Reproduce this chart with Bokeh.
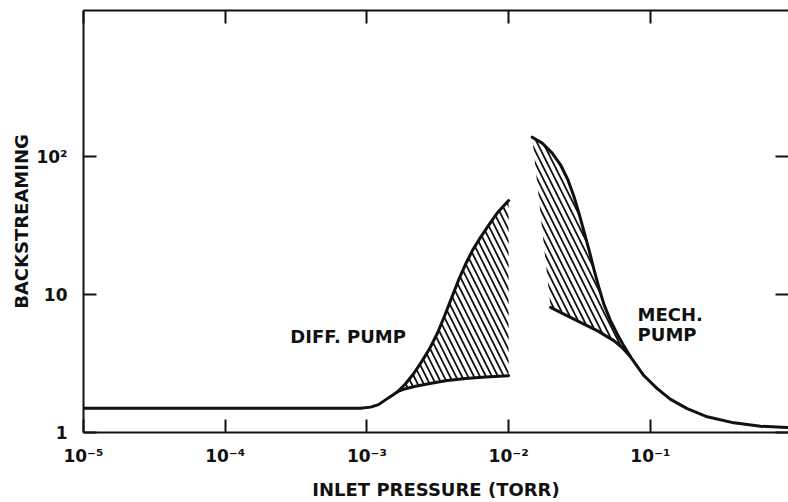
from bokeh.plotting import figure
from bokeh.models import LogAxis, FixedTicker, Range1d
from bokeh.core.properties import value
from bokeh.embed import file_html
from bokeh.resources import INLINE

# ---- data ----
x_ticks = [1e-5, 1e-4, 1e-3, 1e-2, 1e-1]
x_tick_labels = ["10⁻⁵", "10⁻⁴", "10⁻³", "10⁻²", "10⁻¹"]
y_ticks = [1, 10, 100]
y_tick_labels = ["1", "10", "10²"]

diff_lower_x = [1e-5, 9.01e-4, 1.060e-3, 1.208e-3, 1.375e-3, 1.516e-3, 1.644e-3, 1.873e-3,
                2.203e-3, 2.720e-3, 3.586e-3, 4.963e-3, 6.871e-3, 1e-2]
diff_lower_y = [1.50, 1.50, 1.528, 1.593, 1.746, 1.866, 1.977, 2.078,
                2.166, 2.259, 2.374, 2.467, 2.529, 2.579]
diff_upper_x = [1.644e-3, 1.873e-3, 2.133e-3, 2.428e-3, 2.765e-3, 3.149e-3, 3.528e-3, 3.954e-3,
                4.429e-3, 4.963e-3, 5.561e-3, 6.333e-3, 7.214e-3, 8.351e-3, 1e-2]
diff_upper_y = [1.977, 2.259, 2.667, 3.255, 4.042, 5.273, 6.995, 9.435,
                12.73, 16.60, 20.96, 26.01, 31.76, 39.41, 48.12]

mech_upper_x = [0.014664, 0.017254, 0.020300, 0.023240, 0.026182, 0.028860, 0.031305, 0.033962,
                0.036838, 0.039949, 0.043332, 0.046989, 0.052360, 0.058356, 0.065026, 0.072461,
                0.08996, 0.1119, 0.1389, 0.1821, 0.2521, 0.3885, 0.5992, 0.9249, 1.05]
mech_upper_y = [138.7, 125.6, 106.3, 87.5, 68.2, 51.7, 39.2, 28.9,
                21.3, 15.3, 11.3, 8.54, 6.47, 5.19, 4.25, 3.54,
                2.59, 2.08, 1.74, 1.49, 1.30, 1.175, 1.11, 1.086, 1.08]
mech_lower_x = [0.01977, 0.02455, 0.03214, 0.04217, 0.05521, 0.06364, 0.072461]
mech_lower_y = [8.09, 7.23, 6.29, 5.48, 4.64, 4.11, 3.54]

labels_text = ["DIFF. PUMP", "MECH.", "PUMP"]
labels_x = [2.88e-4, 0.0813, 0.0813]
labels_y = [4.93, 7.23, 5.14]

INK = "#111111"
FONT = "DejaVu Sans"

p = figure(width=788, height=502, x_axis_type="log", y_axis_type="log",
           x_range=Range1d(1e-5, 0.944), y_range=Range1d(1, 1151),
           output_backend="svg", toolbar_location=None,
           min_border_left=83, min_border_right=0, min_border_top=10, min_border_bottom=68)
p.outline_line_color = None
p.xgrid.grid_line_color = None
p.ygrid.grid_line_color = None
p.background_fill_color = "white"
p.border_fill_color = "white"

def style_axis(ax, ticks, labels=None):
    ax.ticker = FixedTicker(ticks=ticks, minor_ticks=[])
    ax.major_tick_in = 13
    ax.major_tick_out = 0
    ax.minor_tick_line_color = None
    ax.major_tick_line_color = INK
    ax.major_tick_line_width = 2
    ax.axis_line_color = INK
    ax.axis_line_width = 2
    if labels is not None:
        ax.major_label_overrides = {t: l for t, l in zip(ticks, labels)}
        ax.major_label_text_font = FONT
        ax.major_label_text_font_style = "bold"
        ax.major_label_text_font_size = "17px"
        ax.major_label_text_color = INK
        ax.axis_label_text_font = FONT
        ax.axis_label_text_font_style = "bold"
        ax.axis_label_text_font_size = "18px"
        ax.axis_label_text_color = INK

xa = p.xaxis[0]
style_axis(xa, x_ticks, x_tick_labels)
xa.axis_label = "INLET PRESSURE (TORR)"
xa.major_label_standoff = 13
xa.axis_label_standoff = 10

ya = p.yaxis[0]
style_axis(ya, y_ticks, y_tick_labels)
ya.axis_label = "BACKSTREAMING"
ya.major_label_standoff = 16
ya.axis_label_standoff = 1

top = LogAxis()
style_axis(top, x_ticks)
top.major_label_text_font_size = "1px"
top.major_label_text_alpha = 0
top.major_label_standoff = 0
p.add_layout(top, "above")

right = LogAxis()
style_axis(right, y_ticks)
right.major_label_text_font_size = "1px"
right.major_label_text_alpha = 0
right.major_label_standoff = 0
right.axis_line_color = None
p.add_layout(right, "right")

# hatched regions
dl = [(x, y) for x, y in zip(diff_lower_x, diff_lower_y) if x >= diff_upper_x[0]]
diff_poly_x = list(diff_upper_x) + [x for x, _ in reversed(dl)]
diff_poly_y = list(diff_upper_y) + [y for _, y in reversed(dl)]
p.patch(diff_poly_x, diff_poly_y, fill_alpha=0, line_color=None,
        hatch_pattern="\\", hatch_color=INK, hatch_weight=1.8, hatch_scale=12)

mu = [(x, y) for x, y in zip(mech_upper_x, mech_upper_y) if x <= mech_lower_x[-1]]
mech_poly_x = [x for x, _ in mu] + list(reversed(mech_lower_x))
mech_poly_y = [y for _, y in mu] + list(reversed(mech_lower_y))
p.patch(mech_poly_x, mech_poly_y, fill_alpha=0, line_color=None,
        hatch_pattern="\\", hatch_color=INK, hatch_weight=1.8, hatch_scale=12)

# curves
for xs, ys in [(diff_lower_x, diff_lower_y), (diff_upper_x, diff_upper_y),
               (mech_upper_x, mech_upper_y), (mech_lower_x, mech_lower_y)]:
    p.line(xs, ys, line_color=INK, line_width=3, line_join="round", line_cap="round")

p.text(x=labels_x, y=labels_y, text=labels_text, text_font=value(FONT),
       text_font_style="bold", text_font_size="18px", text_color=INK,
       text_align="left", text_baseline="middle")

open("out.html", "w").write(file_html(p, INLINE))
